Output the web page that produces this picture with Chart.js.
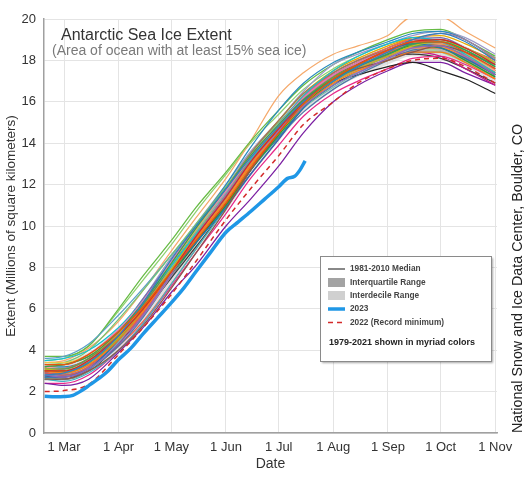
<!DOCTYPE html>
<html><head><meta charset="utf-8">
<script src="https://cdn.jsdelivr.net/npm/chart.js@4.4.0/dist/chart.umd.min.js"></script>
<style>html,body{margin:0;padding:0;background:#fff;}</style>
</head><body>
<canvas id="c" width="530" height="478"></canvas>
<script>
// ---------- DATA ----------
const dayPoints = [49,60,74,91,105,121,135,152,166,182,196,213,227,244,258,274,288,305];
const monthTickDays = [60,91,121,152,182,213,244,274,305];
const monthTickLabels = ['1 Mar','1 Apr','1 May','1 Jun','1 Jul','1 Aug','1 Sep','1 Oct','1 Nov'];

const median8110 = [2.9,2.9,3.3,4.5,5.9,7.8,9.4,11.3,13.0,14.6,15.9,17.0,17.6,18.2,18.6,18.6,18.1,17.3];
const p10 = [2.5,2.5,2.9,4.0,5.3,7.2,8.8,10.7,12.4,14.1,15.5,16.6,17.2,17.8,18.2,18.2,17.7,16.9];
const p25 = [2.7,2.7,3.1,4.3,5.6,7.5,9.1,11.0,12.7,14.3,15.7,16.8,17.4,18.0,18.4,18.4,17.9,17.1];
const p75 = [3.2,3.2,3.6,4.8,6.2,8.1,9.7,11.6,13.3,14.9,16.2,17.3,17.9,18.5,18.9,18.9,18.4,17.6];
const p90 = [3.4,3.5,3.9,5.1,6.5,8.4,10.0,11.9,13.6,15.1,16.4,17.5,18.1,18.7,19.1,19.1,18.7,17.9];

const days2023 = [49,55,60,65,70,75,80,85,91,98,105,113,121,128,135,143,152,159,166,174,182,187,191,194,197];
const ext2023 = [1.78,1.75,1.76,1.82,2.05,2.35,2.65,3.0,3.55,4.1,4.8,5.55,6.3,7.0,7.8,8.7,9.7,10.2,10.7,11.3,11.9,12.3,12.4,12.7,13.15];
const ext2022 = [2.0,2.05,2.35,3.8,5.1,6.7,8.3,10.3,11.8,13.4,14.9,16.0,16.9,17.6,18.0,18.1,17.7,16.9];

const y1979 = [3.3,3.3,3.8,4.9,6.1,7.8,9.3,11.1,12.8,14.5,15.9,17.1,17.8,18.5,18.9,18.9,18.4,17.6];
const y1980 = [2.8,2.9,3.4,4.7,6.3,8.4,10.0,11.8,13.3,14.8,16.0,17.0,17.7,18.4,19.0,19.3,18.9,18.0];
const y1981 = [3.2,3.3,3.7,4.9,6.3,8.2,9.9,11.8,13.4,14.9,16.1,17.1,17.7,18.3,18.8,18.9,18.5,17.7];
const y1982 = [3.0,3.0,3.5,4.7,6.0,7.8,9.5,11.4,13.1,14.7,16.0,17.1,17.8,18.5,18.9,19.0,18.6,17.8];
const y1983 = [2.8,2.7,3.1,4.3,5.7,7.7,9.5,11.5,13.1,14.6,15.8,16.8,17.4,18.1,18.6,18.7,18.2,17.3];
const y1984 = [2.6,2.6,3.0,4.0,5.2,7.0,8.7,10.8,12.7,14.5,16.0,17.1,17.6,18.0,18.4,18.7,18.4,17.8];
const y1985 = [3.3,3.3,3.8,5.0,6.4,8.3,9.9,11.7,13.3,14.9,16.2,17.3,17.9,18.5,18.9,18.9,18.4,17.6];
const y1986 = [3.5,3.6,4.0,5.1,6.4,8.1,9.6,11.4,13.2,14.9,16.3,17.5,18.2,18.8,19.1,18.9,18.3,17.4];
const y1987 = [3.1,3.0,3.4,4.6,6.0,7.9,9.6,11.5,13.2,14.8,16.0,17.0,17.6,18.2,18.7,18.9,18.6,17.9];
const y1988 = [3.0,2.9,3.3,4.5,5.9,7.8,9.4,11.2,12.9,14.5,15.8,16.9,17.5,18.0,18.4,18.4,17.9,17.1];
const y1989 = [2.7,2.7,3.1,4.5,6.0,7.8,9.2,10.9,12.5,14.2,15.7,17.0,17.8,18.5,18.8,18.6,18.1,17.3];
const y1990 = [3.0,3.0,3.4,4.6,6.0,7.7,9.2,11.0,12.7,14.4,15.8,17.0,17.7,18.3,18.7,18.6,18.0,17.2];
const y1991 = [3.2,3.3,3.7,4.8,6.1,7.9,9.4,11.3,13.0,14.6,15.9,17.0,17.6,18.2,18.6,18.6,18.2,17.4];
const y1992 = [2.7,2.6,3.0,4.4,6.0,8.0,9.7,11.6,13.1,14.5,15.7,16.7,17.4,18.1,18.6,18.9,18.6,17.9];
const y1993 = [2.9,2.8,3.2,4.4,5.8,7.8,9.5,11.5,13.2,14.9,16.2,17.3,17.9,18.4,18.7,18.6,18.1,17.3];
const y1994 = [3.1,3.1,3.6,4.8,6.2,8.0,9.6,11.5,13.2,14.8,16.1,17.2,17.8,18.5,18.9,19.0,18.5,17.7];
const y1995 = [3.0,3.1,3.5,4.5,5.7,7.6,9.4,11.5,13.3,14.9,16.1,17.0,17.6,18.3,18.9,19.3,19.0,18.1];
const y1996 = [3.2,3.1,3.5,4.6,5.9,7.8,9.4,11.3,12.9,14.5,15.8,16.9,17.5,18.1,18.6,18.6,18.2,17.5];
const y1997 = [2.9,2.8,3.1,4.2,5.6,7.6,9.4,11.4,12.9,14.3,15.5,16.6,17.3,18.0,18.5,18.6,18.2,17.3];
const y1998 = [3.4,3.4,3.8,5.0,6.4,8.2,9.8,11.7,13.4,14.9,16.1,17.1,17.7,18.3,18.7,18.7,18.3,17.5];
const y1999 = [3.0,3.0,3.4,4.7,6.1,8.1,9.8,11.8,13.5,15.1,16.4,17.4,18.0,18.5,18.8,18.7,18.2,17.4];
const y2000 = [2.9,2.9,3.3,4.5,5.9,7.8,9.5,11.4,13.1,14.8,16.1,17.2,17.8,18.4,18.8,18.8,18.3,17.5];
const y2001 = [2.8,2.8,3.2,4.4,5.8,7.7,9.3,11.2,12.9,14.5,15.8,16.9,17.5,18.0,18.4,18.4,17.9,17.2];
const y2002 = [2.7,2.7,3.2,4.6,6.2,8.0,9.5,11.0,12.5,14.2,15.7,17.0,17.7,18.2,18.4,18.2,17.6,16.8];
const y2003 = [3.3,3.4,4.0,5.5,6.9,8.6,10.1,11.9,13.5,15.0,16.2,17.3,17.9,18.5,18.9,18.9,18.3,17.5];
const y2004 = [3.1,3.0,3.4,4.6,6.0,7.9,9.6,11.5,13.2,14.8,16.2,17.4,18.0,18.6,19.0,18.9,18.4,17.6];
const y2005 = [2.8,2.9,3.4,4.9,6.5,8.3,9.7,11.4,13.0,14.7,16.2,17.4,18.0,18.6,19.0,19.1,18.6,17.9];
const y2006 = [2.6,2.5,2.9,4.0,5.3,7.2,8.9,10.9,12.7,14.4,15.8,17.0,17.6,18.2,18.6,18.7,18.3,17.6];
const y2007 = [3.0,3.0,3.5,4.8,6.3,8.2,9.9,11.8,13.5,15.1,16.4,17.5,18.1,18.7,19.1,19.2,18.8,18.1];
const y2008 = [3.6,3.7,4.3,5.7,7.0,8.6,10.0,11.7,13.3,14.9,16.2,17.3,17.9,18.5,18.7,18.6,18.3,17.8];
const y2009 = [3.0,3.1,3.6,4.9,6.4,8.3,9.9,11.7,13.3,14.9,16.2,17.3,17.9,18.6,19.0,19.0,18.6,17.9];
const y2010 = [3.2,3.2,3.6,4.9,6.3,8.3,10.0,12.0,13.8,15.6,16.9,17.9,18.4,18.9,19.3,19.4,19.0,18.1];
const y2011 = [2.6,2.7,3.3,4.8,6.3,8.1,9.5,11.2,12.8,14.4,15.8,17.1,17.8,18.4,18.6,18.4,17.9,17.3];
const y2012 = [3.0,3.1,3.6,5.0,6.5,8.5,10.1,12.0,13.6,15.1,16.5,17.8,18.3,18.8,19.2,19.4,19.1,18.3];
const y2013 = [3.7,3.7,4.2,6.0,7.6,9.3,10.9,12.6,14.1,15.6,16.8,17.8,18.4,19.0,19.4,19.5,19.0,18.2];
const y2014 = [3.4,3.5,4.1,5.4,6.9,8.8,10.4,12.3,14.1,16.3,17.4,18.3,18.7,19.2,20.1,20.1,19.4,18.6];
const y2015 = [3.5,3.6,4.2,5.9,7.4,9.1,10.7,12.5,14.0,15.4,16.6,17.6,18.2,18.8,19.0,18.9,18.5,17.8];
const y2016 = [2.6,2.6,3.0,4.3,5.8,7.7,9.2,11.1,12.8,14.5,15.9,16.9,17.3,17.7,17.9,17.5,17.1,16.4];
const y2017 = [2.4,2.3,2.6,3.9,5.1,6.8,8.1,10.0,11.3,12.9,14.5,16.0,16.8,17.5,17.9,17.9,17.4,16.8];
const y2018 = [2.4,2.4,2.8,4.0,5.3,7.1,8.7,10.6,12.3,13.9,15.3,16.4,17.0,17.6,18.1,18.2,17.8,17.1];
const y2019 = [2.7,2.9,3.4,4.6,5.8,7.5,9.0,10.9,12.7,14.5,16.0,17.2,17.8,18.2,18.3,18.1,17.6,16.9];
const y2020 = [2.6,2.6,3.1,4.2,5.4,7.2,8.9,11.0,12.9,14.8,16.3,17.3,17.8,18.3,18.7,18.9,18.6,18.0];
const y2021 = [2.8,2.9,3.3,4.4,5.7,7.6,9.2,11.0,12.7,14.3,15.7,16.8,17.5,18.3,18.8,18.9,18.4,17.5];

const yearSeries = [y1979,y1980,y1981,y1982,y1983,y1984,y1985,y1986,y1987,y1988,y1989,y1990,y1991,y1992,y1993,y1994,y1995,y1996,y1997,y1998,y1999,y2000,y2001,y2002,y2003,y2004,y2005,y2006,y2007,y2008,y2009,y2010,y2011,y2012,y2013,y2014,y2015,y2016,y2017,y2018,y2019,y2020,y2021];

const legendLabels = ['1981-2010 Median','Interquartile Range','Interdecile Range','2023','2022 (Record minimum)'];
const legendNote = '1979-2021 shown in myriad colors';

// ---------- STYLES ----------
const yearColors = ['#e6550d','#3182bd','#31a354','#d62728','#9467bd','#8c564b','#e377c2','#17becf','#bcbd22','#ff7f0e',
 '#1f77b4','#2ca02c','#f28e2b','#76b7b2','#e15759','#59a14f','#af7aa1','#ff9da7','#4e79a7','#edc948',
 '#9c755f','#fd8d3c','#6baed6','#c51b8a','#74c476','#fb6a4a','#756bb1','#41b6c4','#e6ab02','#5aa0c8',
 '#f16913','#2b8cbe','#a1d99b','#9e9ac8','#66bb44','#f5a96b','#8fd16f','#222222','#7b1fa2','#e7298a',
 '#3a3a3a','#ef6548','#1b9e77'];
const FONT = '"Liberation Sans", Arial, Helvetica, sans-serif';

const pts = (xs, ys) => xs.map((x, i) => ({x: x, y: ys[i]}));

const datasets = [];
datasets.push({label:'2023', data: pts(days2023, ext2023), borderColor:'#1f97e6', borderWidth:3.5, order:0});
datasets.push({label:'2022', data: pts(dayPoints, ext2022), borderColor:'#d42a2a', borderWidth:1.5, borderDash:[5,4], order:1});
yearSeries.forEach((s, i) => {
  datasets.push({label: String(1979 + i), data: pts(dayPoints, s), borderColor: yearColors[i], borderWidth: 1.25, order: 2});
});
datasets.push({label:'Median', data: pts(dayPoints, median8110), borderColor:'#888', borderWidth:2, order:3});
datasets.push({label:'p75', data: pts(dayPoints, p75), borderWidth:0, borderColor:'rgba(0,0,0,0)', backgroundColor:'rgba(150,150,150,0.6)', fill:'+1', order:4});
datasets.push({label:'p25', data: pts(dayPoints, p25), borderWidth:0, borderColor:'rgba(0,0,0,0)', order:5});
datasets.push({label:'p90', data: pts(dayPoints, p90), borderWidth:0, borderColor:'rgba(0,0,0,0)', backgroundColor:'rgba(205,205,205,0.6)', fill:'+1', order:6});
datasets.push({label:'p10', data: pts(dayPoints, p10), borderWidth:0, borderColor:'rgba(0,0,0,0)', order:7});

const overlay = {
  id: 'overlay',
  afterDraw(chart) {
    const ctx = chart.ctx;
    ctx.save();
    ctx.textAlign = 'left';
    ctx.textBaseline = 'alphabetic';
    ctx.fillStyle = '#333';
    ctx.font = '16px ' + FONT;
    ctx.fillText('Antarctic Sea Ice Extent', 61, 39.5);
    ctx.fillStyle = '#7a7a7a';
    ctx.font = '14px ' + FONT;
    ctx.fillText('(Area of ocean with at least 15% sea ice)', 52, 54.5);
    // credit on right
    ctx.save();
    ctx.translate(521.5, 433);
    ctx.rotate(-Math.PI / 2);
    ctx.fillStyle = '#222';
    ctx.font = '14.3px ' + FONT;
    ctx.fillText('National Snow and Ice Data Center, Boulder, CO', 0, 0);
    ctx.restore();
    // legend box
    const bx = 320.5, by = 256.5, bw = 171, bh = 105;
    ctx.save();
    ctx.shadowColor = 'rgba(0,0,0,0.35)';
    ctx.shadowBlur = 2;
    ctx.shadowOffsetX = 1;
    ctx.shadowOffsetY = 1;
    ctx.fillStyle = '#fff';
    ctx.fillRect(bx, by, bw, bh);
    ctx.restore();
    ctx.strokeStyle = '#8a8a8a';
    ctx.lineWidth = 1;
    ctx.strokeRect(bx, by, bw, bh);
    const sx = 328, ex = 345, tx = 350;
    const rows = [269, 282.5, 295.5, 309, 322.5];
    ctx.strokeStyle = '#888'; ctx.lineWidth = 2;
    ctx.beginPath(); ctx.moveTo(sx, rows[0]); ctx.lineTo(ex, rows[0]); ctx.stroke();
    ctx.fillStyle = '#a3a3a3'; ctx.fillRect(sx, rows[1] - 4.5, ex - sx, 9);
    ctx.fillStyle = '#d0d0d0'; ctx.fillRect(sx, rows[2] - 4.5, ex - sx, 9);
    ctx.strokeStyle = '#1f97e6'; ctx.lineWidth = 3.5;
    ctx.beginPath(); ctx.moveTo(sx, rows[3]); ctx.lineTo(ex, rows[3]); ctx.stroke();
    ctx.strokeStyle = '#d42a2a'; ctx.lineWidth = 1.5; ctx.setLineDash([5, 4]);
    ctx.beginPath(); ctx.moveTo(sx, rows[4]); ctx.lineTo(ex + 1, rows[4]); ctx.stroke();
    ctx.setLineDash([]);
    ctx.fillStyle = '#444';
    ctx.font = 'bold 8.3px ' + FONT;
    ctx.textBaseline = 'middle';
    legendLabels.forEach((t, i) => ctx.fillText(t, tx, rows[i]));
    ctx.fillStyle = '#222';
    ctx.font = 'bold 9px ' + FONT;
    ctx.fillText(legendNote, 329, 343);
    ctx.restore();
  }
};

new Chart(document.getElementById('c'), {
  type: 'line',
  data: { datasets: datasets },
  options: {
    responsive: false,
    animation: false,
    devicePixelRatio: 1,
    layout: { padding: { top: 19, right: 33, left: 0, bottom: 0 } },
    elements: { point: { radius: 0 }, line: { cubicInterpolationMode: 'monotone', fill: false } },
    plugins: { legend: { display: false }, tooltip: { enabled: false }, title: { display: false } },
    scales: {
      x: {
        type: 'linear', min: 48.6, max: 306,
        afterBuildTicks: (s) => { s.ticks = monthTickDays.map(v => ({ value: v })); },
        afterFit: (s) => { s.height = 45; },
        ticks: { autoSkip: false, maxRotation: 0, padding: 7, color: '#333', font: { family: FONT, size: 13 },
          callback: (v) => monthTickLabels[monthTickDays.indexOf(v)] },
        grid: { color: '#e4e4e4', drawTicks: false },
        border: { color: '#a0a0a0', width: 1.5 },
        title: { display: true, text: 'Date', color: '#333', font: { family: FONT, size: 14 }, padding: { top: 2, bottom: 5 } }
      },
      y: {
        min: 0, max: 20,
        afterFit: (s) => { s.width = 44; },
        ticks: { stepSize: 2, padding: 8, color: '#333', font: { family: FONT, size: 13 } },
        grid: { color: '#e4e4e4', drawTicks: false },
        border: { color: '#a0a0a0', width: 1.5 },
        title: { display: true, text: 'Extent (Millions of square kilometers)', color: '#333', font: { family: FONT, size: 13.5 }, padding: { top: 3, bottom: 0 } }
      }
    }
  },
  plugins: [overlay]
});
</script>
</body></html>
